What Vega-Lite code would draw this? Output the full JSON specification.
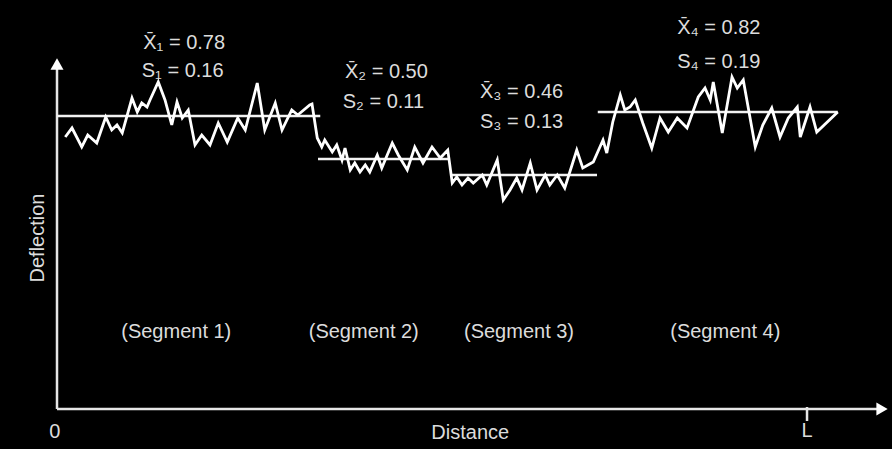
{
  "$schema": "https://vega.github.io/schema/vega-lite/v6.json",
  "width": 892,
  "height": 449,
  "autosize": {"type": "fit", "contains": "padding"},
  "padding": 0,
  "background": "#000000",
  "config": {"view": {"stroke": null, "fill": "#000000"}, "font": "Liberation Sans"},
  "datasets": {
    "signal": [
      {"distance": 1.1, "deflection": 2.72}, {"distance": 2.0, "deflection": 2.81}, {"distance": 3.3, "deflection": 2.62},
      {"distance": 4.1, "deflection": 2.74}, {"distance": 5.3, "deflection": 2.66}, {"distance": 6.5, "deflection": 2.92},
      {"distance": 7.3, "deflection": 2.79}, {"distance": 8.0, "deflection": 2.84}, {"distance": 8.7, "deflection": 2.76},
      {"distance": 10.0, "deflection": 3.11}, {"distance": 10.7, "deflection": 2.97}, {"distance": 11.3, "deflection": 3.06},
      {"distance": 12.0, "deflection": 3.02}, {"distance": 12.4, "deflection": 3.09}, {"distance": 13.5, "deflection": 3.27},
      {"distance": 14.4, "deflection": 3.09}, {"distance": 15.3, "deflection": 2.84}, {"distance": 16.0, "deflection": 3.07},
      {"distance": 16.7, "deflection": 2.91}, {"distance": 17.5, "deflection": 2.99}, {"distance": 18.4, "deflection": 2.64},
      {"distance": 19.3, "deflection": 2.74}, {"distance": 20.4, "deflection": 2.64}, {"distance": 21.5, "deflection": 2.86},
      {"distance": 22.7, "deflection": 2.67}, {"distance": 24.1, "deflection": 2.91}, {"distance": 25.1, "deflection": 2.79},
      {"distance": 26.7, "deflection": 3.26}, {"distance": 27.7, "deflection": 2.79}, {"distance": 29.1, "deflection": 3.06},
      {"distance": 30.0, "deflection": 2.79}, {"distance": 31.3, "deflection": 2.99}, {"distance": 32.1, "deflection": 2.94},
      {"distance": 33.7, "deflection": 3.04}, {"distance": 34.0, "deflection": 3.05}, {"distance": 34.7, "deflection": 2.71},
      {"distance": 35.3, "deflection": 2.62}, {"distance": 35.7, "deflection": 2.69}, {"distance": 36.7, "deflection": 2.57},
      {"distance": 37.3, "deflection": 2.64}, {"distance": 38.0, "deflection": 2.49}, {"distance": 38.4, "deflection": 2.61},
      {"distance": 39.1, "deflection": 2.39}, {"distance": 39.7, "deflection": 2.46}, {"distance": 40.4, "deflection": 2.37},
      {"distance": 41.1, "deflection": 2.44}, {"distance": 41.7, "deflection": 2.37}, {"distance": 42.7, "deflection": 2.54},
      {"distance": 43.3, "deflection": 2.41}, {"distance": 44.7, "deflection": 2.66}, {"distance": 45.5, "deflection": 2.54},
      {"distance": 46.7, "deflection": 2.39}, {"distance": 47.7, "deflection": 2.62}, {"distance": 48.8, "deflection": 2.46},
      {"distance": 50.0, "deflection": 2.62}, {"distance": 51.1, "deflection": 2.51}, {"distance": 52.1, "deflection": 2.59},
      {"distance": 52.7, "deflection": 2.26}, {"distance": 53.3, "deflection": 2.32}, {"distance": 54.0, "deflection": 2.24},
      {"distance": 54.8, "deflection": 2.31}, {"distance": 55.5, "deflection": 2.26}, {"distance": 56.7, "deflection": 2.34},
      {"distance": 57.3, "deflection": 2.24}, {"distance": 58.7, "deflection": 2.49}, {"distance": 59.5, "deflection": 2.09},
      {"distance": 60.4, "deflection": 2.19}, {"distance": 61.3, "deflection": 2.31}, {"distance": 62.0, "deflection": 2.19},
      {"distance": 63.1, "deflection": 2.46}, {"distance": 64.0, "deflection": 2.19}, {"distance": 65.1, "deflection": 2.34},
      {"distance": 65.7, "deflection": 2.24}, {"distance": 66.7, "deflection": 2.34}, {"distance": 67.7, "deflection": 2.21},
      {"distance": 69.3, "deflection": 2.59}, {"distance": 70.1, "deflection": 2.41}, {"distance": 71.5, "deflection": 2.47},
      {"distance": 72.8, "deflection": 2.69}, {"distance": 73.3, "deflection": 2.56}, {"distance": 74.1, "deflection": 2.87},
      {"distance": 75.1, "deflection": 3.14}, {"distance": 75.7, "deflection": 2.99}, {"distance": 76.4, "deflection": 3.02},
      {"distance": 77.1, "deflection": 3.09}, {"distance": 78.1, "deflection": 2.86}, {"distance": 79.3, "deflection": 2.61},
      {"distance": 80.4, "deflection": 2.91}, {"distance": 81.5, "deflection": 2.77}, {"distance": 82.7, "deflection": 2.91},
      {"distance": 84.0, "deflection": 2.81}, {"distance": 85.5, "deflection": 3.12}, {"distance": 86.4, "deflection": 3.21},
      {"distance": 87.1, "deflection": 3.09}, {"distance": 87.5, "deflection": 3.27}, {"distance": 88.7, "deflection": 2.76},
      {"distance": 90.0, "deflection": 3.32}, {"distance": 90.7, "deflection": 3.21}, {"distance": 91.5, "deflection": 3.29},
      {"distance": 93.1, "deflection": 2.62}, {"distance": 94.1, "deflection": 2.84}, {"distance": 95.3, "deflection": 3.01},
      {"distance": 96.4, "deflection": 2.72}, {"distance": 97.5, "deflection": 2.91}, {"distance": 98.7, "deflection": 3.02},
      {"distance": 99.1, "deflection": 2.72}, {"distance": 100.4, "deflection": 3.02}, {"distance": 101.3, "deflection": 2.77},
      {"distance": 104.1, "deflection": 2.97}
    ],
    "means": [
      {"segment": 1, "start": 0, "end": 35.1, "mean": 2.93},
      {"segment": 2, "start": 34.8, "end": 52.4, "mean": 2.5},
      {"segment": 3, "start": 52.4, "end": 72.0, "mean": 2.34},
      {"segment": 4, "start": 72.1, "end": 104.1, "mean": 2.97}
    ],
    "axes": [
      {"x0": 0, "y0": 0, "x1": 0, "y1": 3.4},
      {"x0": 0, "y0": 0, "x1": 109.6, "y1": 0}
    ],
    "stats": [
      {"label": "X̄₁ = 0.78", "distance": 11.5, "deflection": 3.66},
      {"label": "S₁ = 0.16", "distance": 11.3, "deflection": 3.38},
      {"label": "X̄₂ = 0.50", "distance": 38.4, "deflection": 3.37},
      {"label": "S₂ = 0.11", "distance": 38.1, "deflection": 3.07},
      {"label": "X̄₃ = 0.46", "distance": 56.4, "deflection": 3.17},
      {"label": "S₃ = 0.13", "distance": 56.4, "deflection": 2.87},
      {"label": "X̄₄ = 0.82", "distance": 82.7, "deflection": 3.81},
      {"label": "S₄ = 0.19", "distance": 82.7, "deflection": 3.47}
    ],
    "segments": [
      {"label": "(Segment 1)", "distance": 15.9, "deflection": 0.77},
      {"label": "(Segment 2)", "distance": 40.9, "deflection": 0.77},
      {"label": "(Segment 3)", "distance": 61.6, "deflection": 0.77},
      {"label": "(Segment 4)", "distance": 89.1, "deflection": 0.77},
      {"label": "Distance", "distance": 55.1, "deflection": -0.24},
      {"label": "0", "distance": -0.3, "deflection": -0.23},
      {"label": "L", "distance": 100, "deflection": -0.22}
    ]
  },
  "encoding": {},
  "layer": [
    {
      "data": {"name": "axes"},
      "mark": {"type": "rule", "color": "#e6e6e6", "strokeWidth": 2.5},
      "encoding": {
        "x": {"field": "x0", "type": "quantitative", "scale": {"domain": [-7.6, 111.33], "nice": false, "zero": false}, "axis": null},
        "y": {"field": "y0", "type": "quantitative", "scale": {"domain": [-0.4, 4.09], "nice": false, "zero": false}, "axis": null},
        "x2": {"field": "x1"},
        "y2": {"field": "y1"}
      }
    },
    {
      "data": {"values": [{"distance": 0, "deflection": 3.45, "dir": "up"}, {"distance": 110.0, "deflection": 0, "dir": "right"}]},
      "mark": {"type": "point", "filled": true, "color": "#ffffff", "opacity": 1, "size": 170},
      "encoding": {
        "x": {"field": "distance", "type": "quantitative"},
        "y": {"field": "deflection", "type": "quantitative"},
        "shape": {"field": "dir", "type": "nominal", "scale": {"domain": ["up", "right"], "range": ["triangle-up", "triangle-right"]}, "legend": null}
      }
    },
    {
      "data": {"values": [{"distance": 100, "top": 0.02, "bottom": -0.12}]},
      "mark": {"type": "rule", "color": "#e6e6e6", "strokeWidth": 2.5},
      "encoding": {
        "x": {"field": "distance", "type": "quantitative"},
        "y": {"field": "top", "type": "quantitative"},
        "y2": {"field": "bottom"}
      }
    },
    {
      "data": {"name": "means"},
      "mark": {"type": "rule", "color": "#f2f2f2", "strokeWidth": 2.5},
      "encoding": {
        "x": {"field": "start", "type": "quantitative"},
        "x2": {"field": "end"},
        "y": {"field": "mean", "type": "quantitative"}
      }
    },
    {
      "data": {"name": "signal"},
      "mark": {"type": "line", "color": "#ffffff", "strokeWidth": 2.8, "strokeJoin": "miter"},
      "encoding": {
        "x": {"field": "distance", "type": "quantitative"},
        "y": {"field": "deflection", "type": "quantitative"}
      }
    },
    {
      "data": {"name": "stats"},
      "mark": {"type": "text", "color": "#dcdcdc", "fontSize": 20, "align": "left", "baseline": "middle"},
      "encoding": {
        "x": {"field": "distance", "type": "quantitative"},
        "y": {"field": "deflection", "type": "quantitative"},
        "text": {"field": "label", "type": "nominal"}
      }
    },
    {
      "data": {"name": "segments"},
      "mark": {"type": "text", "color": "#dcdcdc", "fontSize": 20, "align": "center", "baseline": "middle"},
      "encoding": {
        "x": {"field": "distance", "type": "quantitative"},
        "y": {"field": "deflection", "type": "quantitative"},
        "text": {"field": "label", "type": "nominal"}
      }
    },
    {
      "data": {"values": [{"label": "Deflection", "distance": -2.5, "deflection": 1.71}]},
      "mark": {"type": "text", "color": "#dcdcdc", "fontSize": 20, "align": "center", "baseline": "middle", "angle": 270},
      "encoding": {
        "x": {"field": "distance", "type": "quantitative"},
        "y": {"field": "deflection", "type": "quantitative"},
        "text": {"field": "label", "type": "nominal"}
      }
    }
  ]
}
